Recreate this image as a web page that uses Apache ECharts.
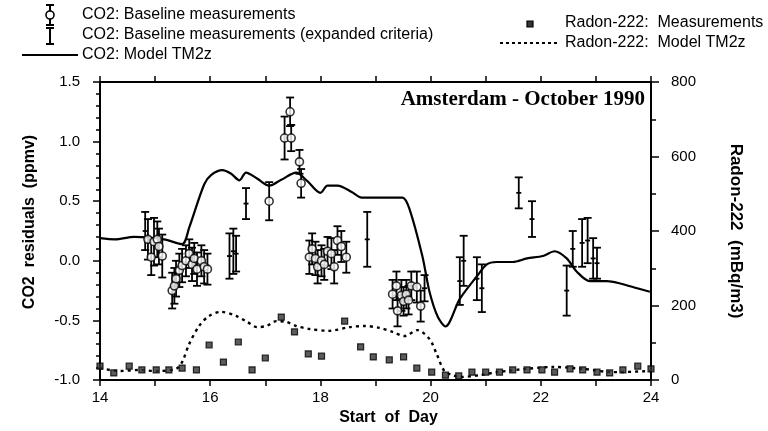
<!DOCTYPE html>
<html>
<head>
<meta charset="utf-8">
<script src="https://cdn.jsdelivr.net/npm/echarts@6/dist/echarts.min.js"></script>
<style>
html,body{margin:0;padding:0;background:#fff;}
#chart{width:768px;height:431px;}
</style>
</head>
<body>
<div id="chart"></div>
<script>
// ---- Data ----
const xTicks = [14, 16, 18, 20, 22, 24];

// CO2 Model TM2z (ppmv residual)
const co2ModelDay = [14.0,14.27,14.62,15.16,15.49,15.62,15.89,16.02,16.22,16.38,16.53,16.65,16.85,17.07,17.29,17.56,17.76,18.0,18.13,18.31,18.56,18.75,19.16,19.49,19.62,19.85,19.98,20.13,20.27,20.53,20.84,21.02,21.2,21.49,21.75,22.04,22.25,22.47,22.65,22.89,23.2,23.44,23.75,23.98];
const co2ModelVal = [0.19,0.18,0.2,0.18,0.14,0.28,0.64,0.72,0.76,0.73,0.675,0.74,0.69,0.63,0.68,0.74,0.67,0.57,0.63,0.63,0.58,0.53,0.53,0.53,0.43,0.04,-0.26,-0.47,-0.55,-0.32,-0.13,-0.03,-0.01,-0.01,0.02,0.04,0.08,0.02,-0.09,-0.17,-0.17,-0.19,-0.23,-0.26];

// Radon-222 Model TM2z (mBq/m3)
const rnModelDay = [14.0,14.35,14.71,15.02,15.38,15.49,15.62,15.8,15.98,16.2,16.47,16.67,16.85,17.02,17.2,17.38,17.56,17.8,18.16,18.53,18.8,19.07,19.31,19.53,19.76,19.98,20.11,20.25,20.4,20.53,20.89,21.2,21.75,22.22,22.76,23.31,23.98];
const rnModelVal = [32,24,27,24,30,48,97,145,172,183,172,156,142,145,158,156,145,137,132,142,145,140,129,118,134,110,70,24,13,8,13,21,30,35,30,21,24];

// Radon-222 measurements (mBq/m3)
const rnMeasDay = [14.0,14.25,14.53,14.76,15.02,15.25,15.49,15.75,15.98,16.24,16.51,16.76,17.0,17.29,17.53,17.78,18.02,18.44,18.73,18.96,19.25,19.51,19.75,20.02,20.27,20.51,20.75,21.0,21.25,21.49,21.75,22.02,22.25,22.53,22.76,23.02,23.25,23.49,23.76,24.0];
const rnMeasVal = [37,19,37,27,27,27,32,27,94,48,102,27,59,169,129,70,64,158,89,62,54,62,32,21,13,11,21,21,21,27,27,27,21,30,27,21,19,27,37,30];

// CO2 baseline measurements (circle + error bar): day, value, half error
const baseDay = [14.87,14.93,14.98,15.04,15.07,15.13,15.31,15.35,15.38,15.44,15.49,15.56,15.62,15.67,15.71,15.76,15.84,15.89,15.95,17.07,17.35,17.45,17.47,17.62,17.65,17.8,17.85,17.91,17.95,18.02,18.07,18.13,18.2,18.25,18.31,18.38,18.47,19.31,19.38,19.4,19.47,19.51,19.56,19.6,19.65,19.75,19.82];
const baseVal = [0.18,0.03,0.16,0.18,0.12,0.04,-0.25,-0.21,-0.15,-0.08,-0.04,0.0,0.06,-0.03,0.02,-0.07,0.0,-0.05,-0.07,0.5,1.03,1.25,1.03,0.83,0.65,0.03,0.1,0.02,-0.05,0.0,-0.03,0.08,0.06,-0.05,0.17,0.12,0.03,-0.28,-0.21,-0.42,-0.29,-0.34,-0.28,-0.33,-0.21,-0.22,-0.38];
const baseErr = [0.17,0.15,0.2,0.15,0.15,0.18,0.15,0.15,0.15,0.14,0.14,0.13,0.12,0.14,0.13,0.14,0.13,0.14,0.13,0.16,0.18,0.12,0.11,0.1,0.12,0.14,0.13,0.14,0.14,0.13,0.13,0.12,0.13,0.14,0.12,0.13,0.13,0.12,0.12,0.13,0.13,0.12,0.12,0.12,0.12,0.13,0.13];

// CO2 baseline measurements, expanded criteria (error bar only)
const expDay = [14.82,16.35,16.42,16.47,16.65,18.85,19.89,20.53,20.6,20.84,20.93,21.6,21.84,22.47,22.58,22.75,22.85,22.95,23.02];
const expVal = [0.25,0.04,0.08,0.06,0.48,0.18,-0.23,-0.17,0.0,-0.15,-0.23,0.57,0.35,-0.25,0.1,0.15,0.17,0.02,-0.02];
const expErr = [0.16,0.19,0.19,0.15,0.13,0.23,0.11,0.2,0.21,0.18,0.2,0.13,0.15,0.21,0.15,0.2,0.19,0.17,0.13];

// ---- Build series data ----
const zip2 = (a, b) => a.map((v, i) => [v, b[i]]);
const zip3 = (a, b, c) => a.map((v, i) => [v, b[i], c[i]]);

function errBar(withMid) {
  return function (params, api) {
    const x = api.value(0), v = api.value(1), e = api.value(2);
    const top = api.coord([x, v + e]);
    const bot = api.coord([x, v - e]);
    const mid = api.coord([x, v]);
    const w = 4;
    const st = { stroke: '#000', lineWidth: 1.8 };
    const ch = [
      { type: 'line', shape: { x1: top[0], y1: top[1], x2: bot[0], y2: bot[1] }, style: st },
      { type: 'line', shape: { x1: top[0] - w, y1: top[1], x2: top[0] + w, y2: top[1] }, style: st },
      { type: 'line', shape: { x1: bot[0] - w, y1: bot[1], x2: bot[0] + w, y2: bot[1] }, style: st }
    ];
    if (withMid) ch.push({ type: 'line', shape: { x1: mid[0] - 2.5, y1: mid[1], x2: mid[0] + 2.5, y2: mid[1] }, style: st });
    return { type: 'group', children: ch };
  };
}

const FONT = 'Liberation Sans, Arial, sans-serif';
const chart = echarts.init(document.getElementById('chart'), null, { renderer: 'canvas' });

const axisLineStyle = { show: true, onZero: false, lineStyle: { color: '#000', width: 2 } };

const option = {
  animation: false,
  backgroundColor: '#fff',
  grid: { left: 100, right: 117, top: 82, bottom: 51 },
  xAxis: [
    {
      type: 'value', min: 14, max: 24, interval: 1, position: 'bottom',
      axisLine: axisLineStyle,
      axisTick: { show: true, length: 6, lineStyle: { color: '#000', width: 1.5 } },
      axisLabel: {
        color: '#000', fontSize: 15, fontFamily: FONT, margin: 10,
        formatter: v => (xTicks.indexOf(v) >= 0 ? String(v) : '')
      },
      splitLine: { show: false },
      name: 'Start  of  Day', nameLocation: 'middle', nameGap: 30,
      nameTextStyle: { color: '#000', fontSize: 16, fontWeight: 'bold', fontFamily: FONT, padding: [0, 0, 0, 26] }
    },
    {
      type: 'value', min: 14, max: 24, interval: 1, position: 'top',
      axisLine: axisLineStyle,
      axisTick: { show: true, length: 6, lineStyle: { color: '#000', width: 1.5 } },
      axisLabel: { show: false }, splitLine: { show: false }
    }
  ],
  yAxis: [
    {
      type: 'value', min: -1, max: 1.5, interval: 0.5, position: 'left',
      axisLine: axisLineStyle,
      axisTick: { show: true, length: 7, lineStyle: { color: '#000', width: 1.5 } },
      minorTick: { show: true, splitNumber: 5, length: 4, lineStyle: { color: '#000', width: 1.5 } },
      axisLabel: { color: '#000', fontSize: 15, fontFamily: FONT, margin: 20, formatter: v => v.toFixed(1) },
      splitLine: { show: false },
      name: 'CO2  residuals  (ppmv)', nameLocation: 'middle', nameGap: 62,
      nameTextStyle: { color: '#000', fontSize: 16, fontWeight: 'bold', fontFamily: FONT, padding: [0, 0, 0, 18] }
    },
    {
      type: 'value', min: 0, max: 800, interval: 200, position: 'right',
      axisLine: axisLineStyle,
      axisTick: { show: true, length: 8, lineStyle: { color: '#000', width: 1.5 } },
      minorTick: { show: true, splitNumber: 2, length: 5, lineStyle: { color: '#000', width: 1.5 } },
      axisLabel: { color: '#000', fontSize: 15, fontFamily: FONT, margin: 20 },
      splitLine: { show: false },
      name: 'Radon-222  (mBq/m3)', nameLocation: 'middle', nameGap: 76, nameRotate: -90,
      nameTextStyle: { color: '#000', fontSize: 17, fontWeight: 'bold', fontFamily: FONT }
    }
  ],
  series: [
    {
      name: 'CO2: Model TM2z', type: 'line', xAxisIndex: 0, yAxisIndex: 0,
      data: zip2(co2ModelDay, co2ModelVal), showSymbol: false, symbol: 'none', smooth: 0.3,
      lineStyle: { color: '#000', width: 2.2 }, z: 3
    },
    {
      name: 'Radon-222: Model TM2z', type: 'line', xAxisIndex: 0, yAxisIndex: 1,
      data: zip2(rnModelDay, rnModelVal), showSymbol: false, symbol: 'none', smooth: 0.3,
      lineStyle: { color: '#000', width: 2.4, type: [3, 4] }, z: 3
    },
    {
      name: 'Radon-222: Measurements', type: 'scatter', xAxisIndex: 0, yAxisIndex: 1,
      data: zip2(rnMeasDay, rnMeasVal), symbol: 'rect', symbolSize: 6,
      itemStyle: { color: '#333', borderColor: '#000', borderWidth: 1.2 }, z: 4
    },
    {
      name: 'CO2: Baseline measurements (expanded criteria)', type: 'custom', xAxisIndex: 0, yAxisIndex: 0,
      data: zip3(expDay, expVal, expErr), renderItem: errBar(true), z: 5
    },
    {
      name: 'CO2: Baseline measurements bars', type: 'custom', xAxisIndex: 0, yAxisIndex: 0,
      data: zip3(baseDay, baseVal, baseErr), renderItem: errBar(false), z: 5
    },
    {
      name: 'CO2: Baseline measurements', type: 'scatter', xAxisIndex: 0, yAxisIndex: 0,
      data: zip2(baseDay, baseVal), symbol: 'circle', symbolSize: 8,
      itemStyle: { color: '#fff', borderColor: '#000', borderWidth: 1.6 }, z: 6
    }
  ],
  graphic: [
    { type: 'text', right: 768 - 645, top: 89,
      style: { text: 'Amsterdam - October 1990', fill: '#000', font: 'bold 21px "Liberation Serif", "Times New Roman", serif' } },
    // left legend
    { type: 'line', shape: { x1: 50, y1: 5, x2: 50, y2: 25 }, style: { stroke: '#000', lineWidth: 2 } },
    { type: 'line', shape: { x1: 46, y1: 5, x2: 54, y2: 5 }, style: { stroke: '#000', lineWidth: 2 } },
    { type: 'line', shape: { x1: 46, y1: 25, x2: 54, y2: 25 }, style: { stroke: '#000', lineWidth: 2 } },
    { type: 'circle', shape: { cx: 50, cy: 15, r: 4 }, style: { fill: '#fff', stroke: '#000', lineWidth: 1.6 }, z: 10 },
    { type: 'text', left: 82, top: 7, style: { text: 'CO2: Baseline measurements', fill: '#000', font: '16px ' + FONT } },
    { type: 'line', shape: { x1: 50, y1: 28, x2: 50, y2: 44 }, style: { stroke: '#000', lineWidth: 2 } },
    { type: 'line', shape: { x1: 46, y1: 28, x2: 54, y2: 28 }, style: { stroke: '#000', lineWidth: 2 } },
    { type: 'line', shape: { x1: 46, y1: 44, x2: 54, y2: 44 }, style: { stroke: '#000', lineWidth: 2 } },
    { type: 'text', left: 82, top: 27, style: { text: 'CO2: Baseline measurements (expanded criteria)', fill: '#000', font: '16px ' + FONT } },
    { type: 'line', shape: { x1: 22, y1: 55, x2: 78, y2: 55 }, style: { stroke: '#000', lineWidth: 2 } },
    { type: 'text', left: 82, top: 47, style: { text: 'CO2: Model TM2z', fill: '#000', font: '16px ' + FONT } },
    // right legend
    { type: 'rect', shape: { x: 527, y: 21, width: 6, height: 6 }, style: { fill: '#333', stroke: '#000', lineWidth: 1.2 } },
    { type: 'text', left: 565, top: 15, style: { text: 'Radon-222:  Measurements', fill: '#000', font: '16px ' + FONT } },
    { type: 'line', shape: { x1: 500, y1: 43, x2: 558, y2: 43 }, style: { stroke: '#000', lineWidth: 2, lineDash: [3, 3] } },
    { type: 'text', left: 565, top: 35, style: { text: 'Radon-222:  Model TM2z', fill: '#000', font: '16px ' + FONT } }
  ]
};
chart.setOption(option);
</script>
</body>
</html>
